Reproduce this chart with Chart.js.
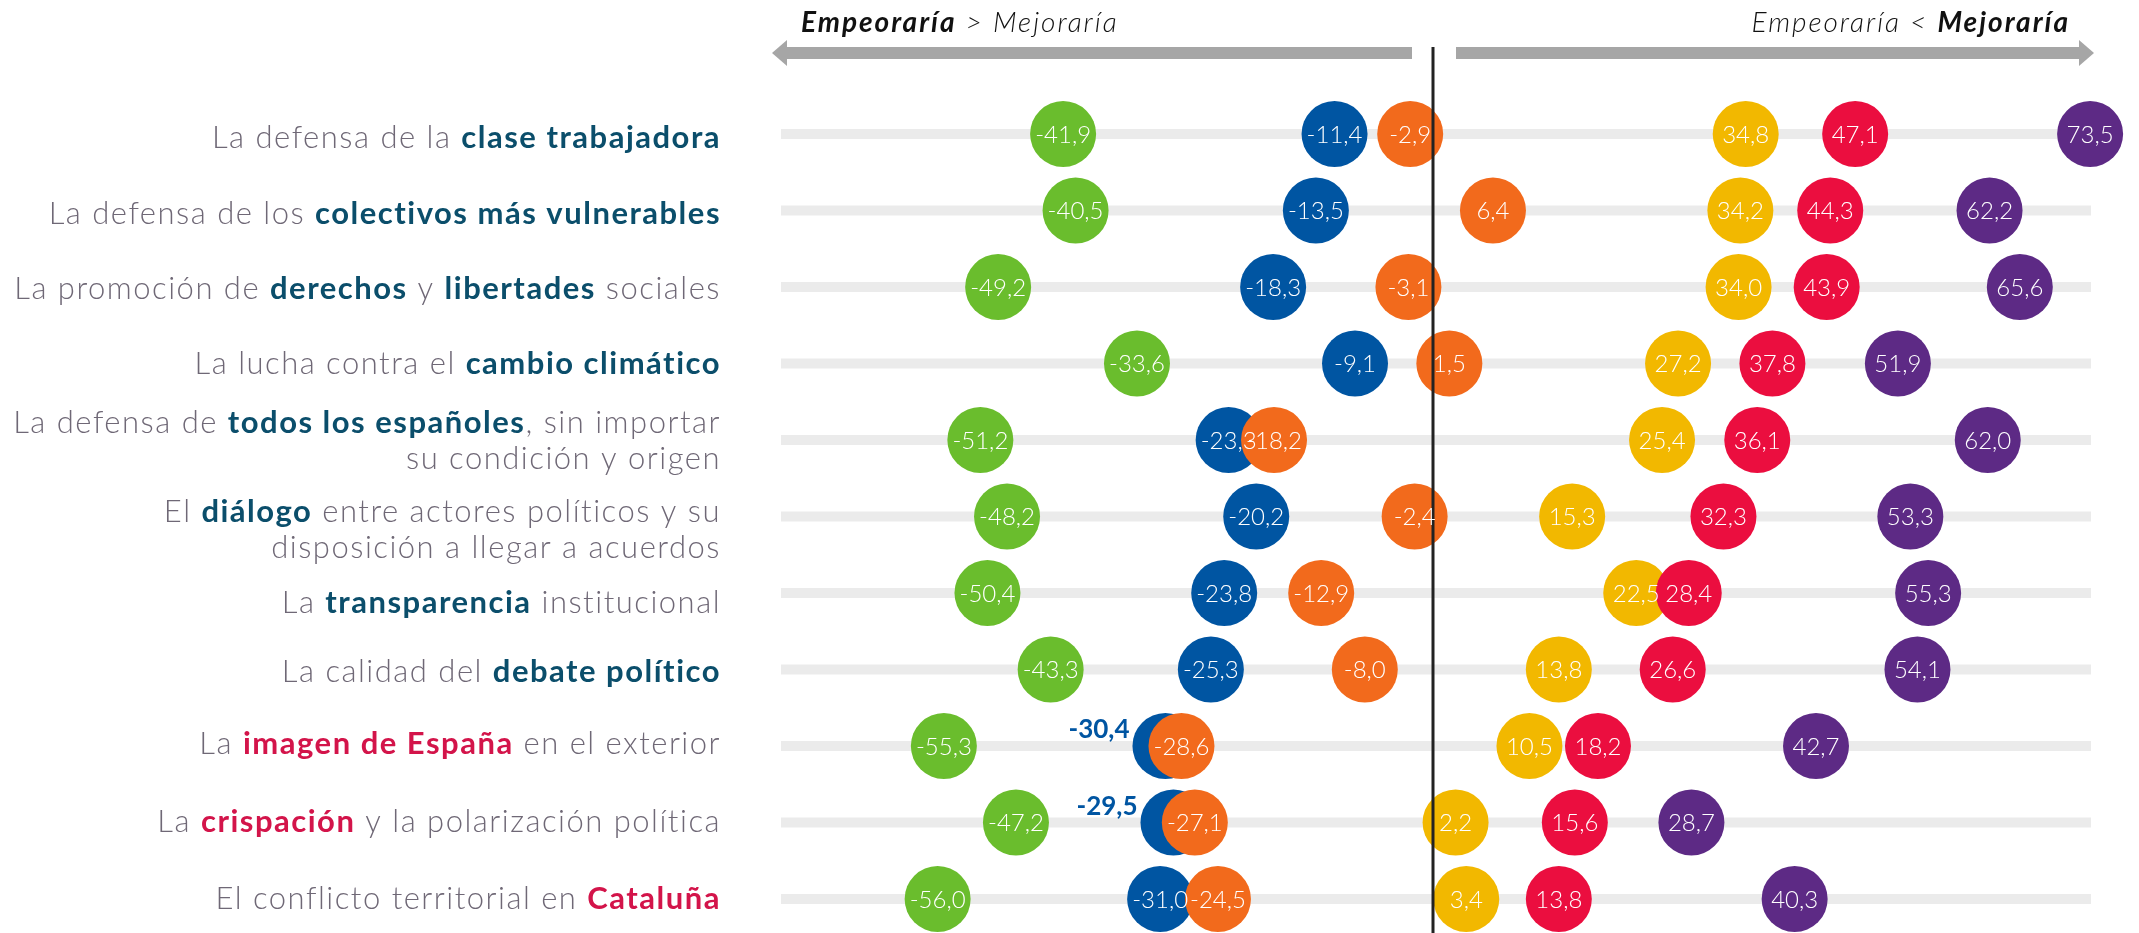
<!DOCTYPE html>
<html lang="es">
<head>
<meta charset="utf-8">
<title>Empeoraría / Mejoraría</title>
<script src="https://cdn.jsdelivr.net/npm/chart.js@4.4.0/dist/chart.umd.min.js"></script>
<style>
  html, body { margin: 0; padding: 0; background: #fff; }
  #wrap { position: relative; width: 2139px; height: 933px; }
</style>
</head>
<body>
<div id="wrap"><canvas id="chart"></canvas></div>
<script>
// ** = negrita azul, ## = negrita roja, | = salto de línea
var categories = [
  "La defensa de la **clase trabajadora**",
  "La defensa de los **colectivos más vulnerables**",
  "La promoción de **derechos** y **libertades** sociales",
  "La lucha contra el **cambio climático**",
  "La defensa de **todos los españoles**, sin importar|su condición y origen",
  "El **diálogo** entre actores políticos y su|disposición a llegar a acuerdos",
  "La **transparencia** institucional",
  "La calidad del **debate político**",
  "La ##imagen de España## en el exterior",
  "La ##crispación## y la polarización política",
  "El conflicto territorial en ##Cataluña##"
];

var green  = [-41.9, -40.5, -49.2, -33.6, -51.2, -48.2, -50.4, -43.3, -55.3, -47.2, -56.0];
var blue   = [-11.4, -13.5, -18.3, -9.1, -23.3, -20.2, -23.8, -25.3, -30.4, -29.5, -31.0];
var orange = [-2.9, 6.4, -3.1, 1.5, -18.2, -2.4, -12.9, -8.0, -28.6, -27.1, -24.5];
var yellow = [34.8, 34.2, 34.0, 27.2, 25.4, 15.3, 22.5, 13.8, 10.5, 2.2, 3.4];
var red    = [47.1, 44.3, 43.9, 37.8, 36.1, 32.3, 28.4, 26.6, 18.2, 15.6, 13.8];
var purple = [73.5, 62.2, 65.6, 51.9, 62.0, 53.3, 55.3, 54.1, 42.7, 28.7, 40.3];

var FAM = 'Lato, "Open Sans", sans-serif';

var series = [
  { name: 'verde',    values: green,  color: '#6abd2d' },
  { name: 'azul',     values: blue,   color: '#0055a2' },
  { name: 'naranja',  values: orange, color: '#f26a1c' },
  { name: 'amarillo', values: yellow, color: '#f2b800' },
  { name: 'rojo',     values: red,    color: '#eb0e3f' },
  { name: 'morado',   values: purple, color: '#5d2a85' }
];

// ajuste vertical fino de cada rótulo (px)
var labelNudge = [4, 3, 2, 0, 1, 13, 10, 2, -2, -1, 0];

function fmt(v) { return v.toFixed(1).replace('.', ','); }

function parseRuns(line) {
  var runs = [], style = 'n';
  line.split(/(\*\*|##)/).forEach(function(p){
    if (p === '**') style = style === 'b' ? 'n' : 'b';
    else if (p === '##') style = style === 'r' ? 'n' : 'r';
    else if (p) runs.push({ t: p, s: style });
  });
  return runs;
}

var runFont  = { n: '300 31px ' + FAM, b: '700 31px ' + FAM, r: '700 31px ' + FAM };
var runColor = { n: '#6f6876', b: '#0b4e6b', r: '#d3144a' };

// fondo: bandas grises, flechas y textos de cabecera
var backdrop = {
  id: 'backdrop',
  beforeDatasetsDraw: function(chart) {
    var ctx = chart.ctx, a = chart.chartArea, ys = chart.scales.y, xs = chart.scales.x;
    ctx.save();
    ctx.fillStyle = '#ebebeb';
    categories.forEach(function(c, i){
      var y = ys.getPixelForValue(i);
      ctx.fillRect(a.left, y - 5, a.right - a.left, 10);
    });

    var x0 = xs.getPixelForValue(0), ay = 53;
    ctx.fillStyle = '#a6a6a6';
    // flecha izquierda
    ctx.fillRect(a.left + 6, ay - 6, x0 - 24 - (a.left + 6), 12);
    ctx.beginPath();
    ctx.moveTo(a.left - 9, ay);
    ctx.lineTo(a.left + 6, ay - 13);
    ctx.lineTo(a.left + 6, ay + 13);
    ctx.closePath();
    ctx.fill();
    // flecha derecha
    ctx.fillRect(x0 + 20, ay - 6, a.right - 12 - (x0 + 20), 12);
    ctx.beginPath();
    ctx.moveTo(a.right + 3, ay);
    ctx.lineTo(a.right - 12, ay - 13);
    ctx.lineTo(a.right - 12, ay + 13);
    ctx.closePath();
    ctx.fill();

    // textos
    ctx.fillStyle = '#111';
    ctx.textBaseline = 'alphabetic';
    ctx.textAlign = 'left';
    ctx.letterSpacing = '2px';
    var bi = 'italic 700 28px ' + FAM, li = 'italic 300 28px ' + FAM;
    var x = a.left + 20, by = 32;
    ctx.font = bi; ctx.fillText('Empeoraría', x, by);
    x += ctx.measureText('Empeoraría').width;
    ctx.font = li; ctx.fillText(' > Mejoraría', x, by);

    ctx.font = bi;
    var w2 = ctx.measureText('Mejoraría').width;
    var xr = a.right - 21 - w2;
    ctx.fillText('Mejoraría', xr, by);
    ctx.font = li;
    var w1 = ctx.measureText('Empeoraría < ').width;
    ctx.fillText('Empeoraría < ', xr - w1, by);
    ctx.restore();
  },
  afterDraw: function(chart) {
    var ctx = chart.ctx, a = chart.chartArea, ys = chart.scales.y;
    ctx.save();
    ctx.textBaseline = 'middle';
    ctx.textAlign = 'left';
    ctx.letterSpacing = '1.5px';
    categories.forEach(function(c, i){
      var lines = c.split('|');
      var yc = ys.getPixelForValue(i) + labelNudge[i];
      lines.forEach(function(line, li){
        var y = yc + (li - (lines.length - 1) / 2) * 36;
        var runs = parseRuns(line);
        var total = 0;
        runs.forEach(function(r){ ctx.font = runFont[r.s]; r.w = ctx.measureText(r.t).width; total += r.w; });
        var x = a.left - 60 - total;
        runs.forEach(function(r){
          ctx.font = runFont[r.s];
          ctx.fillStyle = runColor[r.s];
          ctx.fillText(r.t, x, y);
          x += r.w;
        });
      });
    });
    ctx.restore();
  }
};

// línea central y etiquetas de valor
var overlay = {
  id: 'overlay',
  afterDatasetsDraw: function(chart, args, opts) {
    var ctx = chart.ctx, xs = chart.scales.x;
    ctx.save();
    var x0 = Math.round(xs.getPixelForValue(0)) - 3;
    ctx.fillStyle = '#222';
    ctx.fillRect(x0 - 1.5, 47, 3, chart.height - 47);

    ctx.textBaseline = 'middle';
    chart.data.datasets.forEach(function(ds, di){
      var meta = chart.getDatasetMeta(di);
      meta.data.forEach(function(pt, i){
        var txt = fmt(ds.data[i].x);
        var outside = opts.outside[di] && opts.outside[di].indexOf(i) !== -1;
        if (outside) {
          ctx.font = '700 26px ' + FAM;
          ctx.fillStyle = ds.backgroundColor;
          ctx.textAlign = 'right';
          ctx.fillText(txt, pt.x - 36, pt.y - 16);
        } else {
          ctx.font = '300 24px ' + FAM;
          ctx.fillStyle = '#ffffff';
          ctx.textAlign = 'center';
          ctx.fillText(txt, pt.x, pt.y + 1);
        }
      });
    });
    ctx.restore();
  }
};

var datasets = series.map(function(s, k){
  return {
    label: s.name,
    data: s.values.map(function(v, i){ return { x: v, y: categories[i] }; }),
    backgroundColor: s.color,
    pointBackgroundColor: s.color,
    pointBorderWidth: 0,
    pointRadius: 33,
    pointHoverRadius: 33,
    clip: false,
    order: series.length - k
  };
});

new Chart(document.getElementById('chart'), {
  type: 'scatter',
  data: { labels: categories, datasets: datasets },
  options: {
    responsive: true,
    maintainAspectRatio: false,
    animation: false,
    events: [],
    layout: { padding: { left: 781, right: 48, top: 134, bottom: 34 } },
    scales: {
      x: { type: 'linear', min: -73.6, max: 73.6, display: false },
      y: { type: 'category', labels: categories, offset: false, display: false }
    },
    plugins: {
      legend: { display: false },
      tooltip: { enabled: false },
      overlay: { outside: { 1: [8, 9] } }
    }
  },
  plugins: [backdrop, overlay]
});
</script>
</body>
</html>
